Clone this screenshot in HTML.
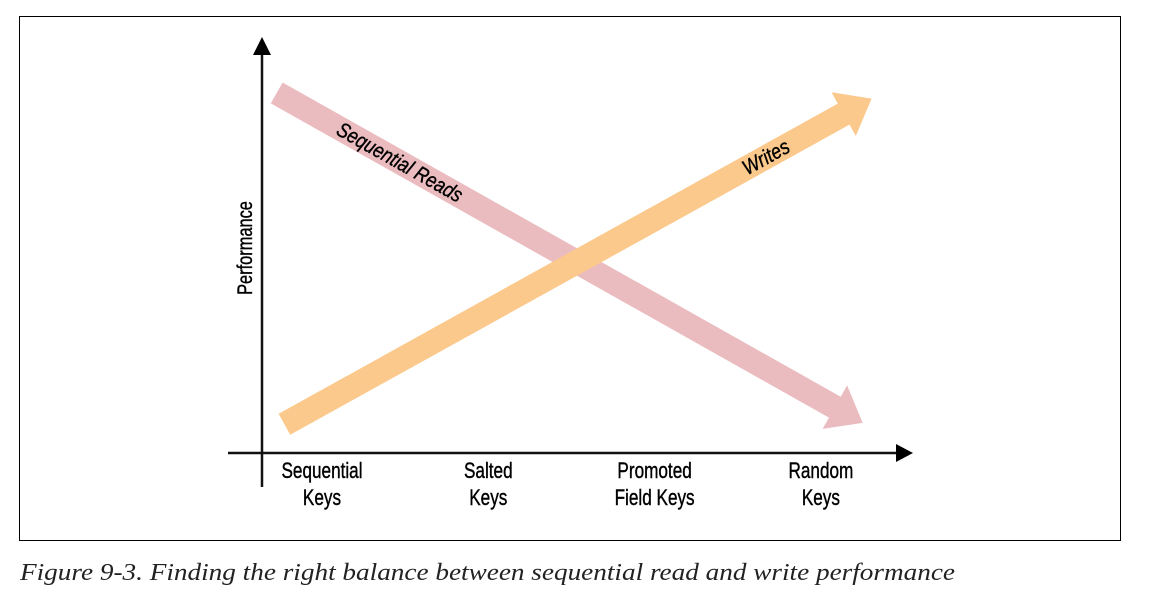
<!DOCTYPE html>
<html><head><meta charset="utf-8"><style>
html,body{margin:0;padding:0;background:#fff;width:1149px;height:594px;overflow:hidden}
svg{display:block}
text{font-family:"Liberation Sans Narrow","Liberation Sans",sans-serif}
</style></head><body>
<svg id="chart" width="1149" height="594" viewBox="0 0 1149 594">
  <rect x="19.5" y="16.5" width="1101" height="524" fill="none" stroke="#000" stroke-width="1"/>
  <g id="marks"></g>
  <line x1="262" y1="50" x2="262" y2="487" stroke="#111" stroke-width="2.5"/>
  <polygon points="262,37 253,55 271,55" fill="#000"/>
  <line x1="228" y1="453" x2="900" y2="453" stroke="#111" stroke-width="2.5"/>
  <polygon points="913,453 896,444 896,462" fill="#000"/>
  <text transform="translate(252,248) rotate(-90) scale(0.78,1)" text-anchor="middle" font-size="21" fill="#000" stroke="#000" stroke-width="0.4">Performance</text>
  <g id="xlabels"></g>
  <text x="20" y="580" textLength="935" lengthAdjust="spacingAndGlyphs" style="font-family:'Liberation Serif',serif" font-style="italic" font-size="24" fill="#222">Figure 9-3. Finding the right balance between sequential read and write performance</text>
</svg>
<script>
const categories = ["Sequential|Keys","Salted|Keys","Promoted|Field Keys","Random|Keys"];
const readsValues = [81, 58, 35, 13];
const writesValues = [12, 34, 57, 79];

const NS = "http://www.w3.org/2000/svg";
function xScale(i){ return 322 + i * 166.3; }
function yScale(v){ return 453 - v * 4.13; }

const xl = document.getElementById("xlabels");
categories.forEach((c, i) => {
  const parts = c.split("|");
  parts.forEach((p, j) => {
    const t = document.createElementNS(NS, "text");
    t.setAttribute("transform", "translate(" + xScale(i) + "," + (478 + j * 27) + ") scale(0.78,1)");
    t.setAttribute("text-anchor", "middle");
    t.setAttribute("font-size", "22");
    t.setAttribute("stroke", "#000");
    t.setAttribute("stroke-width", "0.4");
    t.textContent = p;
    
    
    xl.appendChild(t);
  });
});

function arrow(vals, color, name, startExt, endExt, label, labelT, labelOff) {
  const n = vals.length;
  const x0 = xScale(0), y0 = yScale(vals[0]);
  const x1 = xScale(n - 1), y1 = yScale(vals[n - 1]);
  let dx = x1 - x0, dy = y1 - y0;
  const L = Math.hypot(dx, dy);
  const ux = dx / L, uy = dy / L, nx = -uy, ny = ux;
  const sx = x0 - ux * startExt, sy = y0 - uy * startExt;
  const ex = x1 + ux * endExt, ey = y1 + uy * endExt;
  const headLen = 32, hw = 12, hh = 25;
  const bx = ex - ux * headLen, by = ey - uy * headLen;
  const pts = [
    [sx + nx * hw, sy + ny * hw], [bx + nx * hw, by + ny * hw], [bx + nx * hh, by + ny * hh],
    [ex, ey], [bx - nx * hh, by - ny * hh], [bx - nx * hw, by - ny * hw], [sx - nx * hw, sy - ny * hw]
  ];
  const poly = document.createElementNS(NS, "polygon");
  poly.setAttribute("points", pts.map(p => p[0].toFixed(1) + "," + p[1].toFixed(1)).join(" "));
  poly.setAttribute("fill", color);
  
  
  document.getElementById("marks").appendChild(poly);
  const lx = sx + (ex - sx) * labelT + nx * labelOff, ly = sy + (ey - sy) * labelT + ny * labelOff;
  const ang = Math.atan2(uy, ux) * 180 / Math.PI;
  const t = document.createElementNS(NS, "text");
  t.setAttribute("transform", "translate(" + lx.toFixed(1) + "," + ly.toFixed(1) + ") rotate(" + ang.toFixed(1) + ") scale(0.85,1)");
  t.setAttribute("text-anchor", "middle");
  t.setAttribute("font-size", "21");
  t.setAttribute("font-style", "italic");
  t.setAttribute("stroke", "#000");
  t.setAttribute("stroke-width", "0.4");
  t.textContent = label;
  
  
  document.getElementById("marks").appendChild(t);
}
arrow(readsValues, "#ebbcbf", "sequential-reads-arrow", 52, 48, "Sequential Reads", 0.21, 7);
arrow(writesValues, "#fbc98c", "writes-arrow", 43, 58, "Writes", 0.82, 7);
</script>
</body></html>
